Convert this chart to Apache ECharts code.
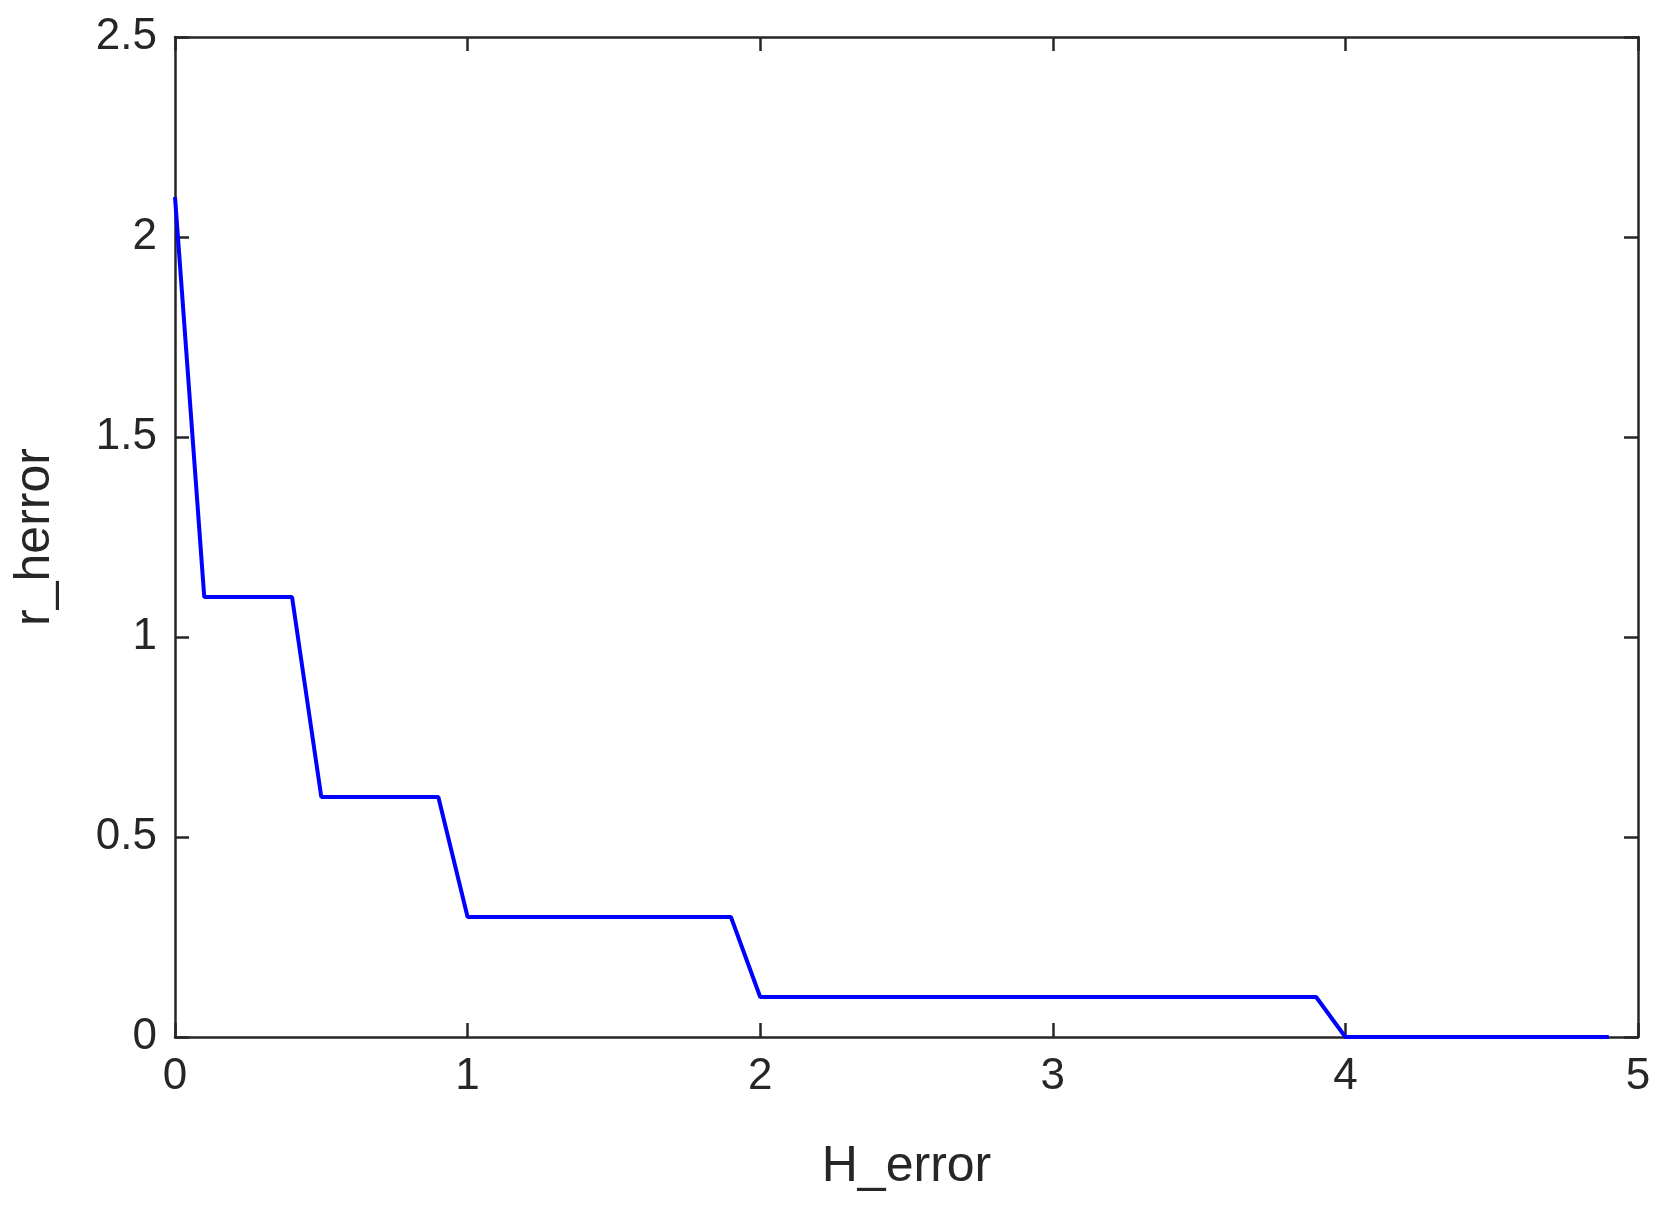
<!DOCTYPE html>
<html><head><meta charset="utf-8">
<script src="https://cdn.jsdelivr.net/npm/echarts@6/dist/echarts.min.js"></script>
<style>html,body{margin:0;background:#fff}#c{width:1670px;height:1217px}</style>
</head><body><div id="c"></div>
<script>
const hError = [0, 0.1, 0.4, 0.5, 0.9, 1.0, 1.9, 2.0, 3.9, 4.0, 4.9];
const rHerror = [2.1, 1.1, 1.1, 0.6, 0.6, 0.3, 0.3, 0.1, 0.1, 0, 0];

const chart = echarts.init(document.getElementById("c"));
const font = "Liberation Sans, Arial, sans-serif";
const axisLine = { show: true, onZero: false, lineStyle: { color: "#262626", width: 2.5 } };
const tick = { show: true, inside: true, length: 14, lineStyle: { color: "#262626", width: 2.5 } };
const lbl = { color: "#262626", fontSize: 44, fontFamily: font };
const nameStyle = { color: "#262626", fontSize: 50, fontFamily: font };

chart.setOption({
  animation: false,
  grid: { left: 175, right: 32, top: 37, bottom: 180 },
  xAxis: [
    { type: "value", position: "bottom", min: 0, max: 5, interval: 1, axisLine, axisTick: tick,
      axisLabel: { ...lbl, margin: 18 }, splitLine: { show: false },
      name: "H_error", nameLocation: "middle", nameGap: 105, nameTextStyle: nameStyle },
    { type: "value", position: "top", min: 0, max: 5, interval: 1, axisLine, axisTick: tick,
      axisLabel: { show: false }, splitLine: { show: false } },
  ],
  yAxis: [
    { type: "value", position: "left", min: 0, max: 2.5, interval: 0.5, axisLine, axisTick: tick,
      axisLabel: { ...lbl, margin: 18 }, splitLine: { show: false },
      name: "r_herror", nameLocation: "middle", nameGap: 115, nameTextStyle: nameStyle },
    { type: "value", position: "right", min: 0, max: 2.5, interval: 0.5, axisLine, axisTick: tick,
      axisLabel: { show: false }, splitLine: { show: false } },
  ],
  series: [{
    type: "line", data: hError.map((x, i) => [x, rHerror[i]]),
    showSymbol: false, lineStyle: { color: "#0000ff", width: 4 },
  }],
});
</script></body></html>
